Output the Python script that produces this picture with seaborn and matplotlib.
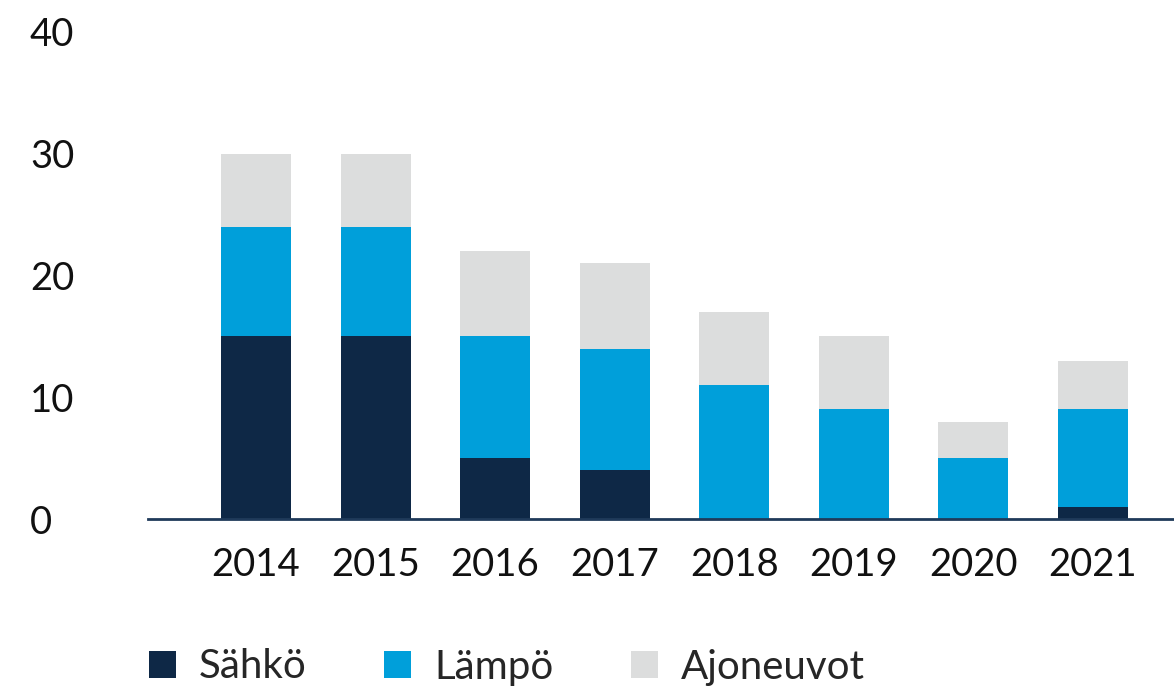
import matplotlib
matplotlib.use("Agg")
import matplotlib.pyplot as plt
from matplotlib.patches import Patch
import seaborn as sns
import pandas as pd

years = ["2014", "2015", "2016", "2017", "2018", "2019", "2020", "2021"]
sahko = [15, 15, 5, 4, 0, 0, 0, 1]
lampo = [9, 9, 10, 10, 11, 9, 5, 8]
ajoneuvot = [6, 6, 7, 7, 6, 6, 3, 4]
series_names = ["Sähkö", "Lämpö", "Ajoneuvot"]
colors = ["#0e2846", "#009fda", "#dcdddd"]
yticks = [0, 10, 20, 30, 40]

sns.set_theme(style="white")
plt.rcParams["font.family"] = ["Lato", "DejaVu Sans"]

df = pd.DataFrame({"year": years, "s": sahko, "l": lampo, "a": ajoneuvot})
df["c1"] = df["s"]
df["c2"] = df["s"] + df["l"]
df["c3"] = df["s"] + df["l"] + df["a"]

W, H = 1174, 688
fig = plt.figure(figsize=(W / 100, H / 100), dpi=100)
ax = fig.add_axes([148 / W, (H - 519) / H, (W - 148) / W, (519 - 32) / H])

for col, c in zip(["c3", "c2", "c1"], [colors[2], colors[1], colors[0]]):
    sns.barplot(data=df, x="year", y=col, order=years, color=c, width=0.586,
                saturation=1, errorbar=None, ax=ax, linewidth=0, edgecolor="none")

ax.set_xlim(-0.904, 7.68)
ax.set_ylim(0, 40)
ax.set_yticks(yticks)
ax.set_yticklabels([str(t) for t in yticks])
ax.set_xlabel("")
ax.set_ylabel("")
for sp in ["top", "right", "left"]:
    ax.spines[sp].set_visible(False)
ax.spines["bottom"].set_color("#1f3a5a")
ax.spines["bottom"].set_linewidth(2)
ax.tick_params(axis="both", length=0, labelsize=27.5, colors="#111111")
ax.tick_params(axis="x", pad=20)
ax.tick_params(axis="y", pad=85)
for lbl in ax.get_yticklabels():
    lbl.set_horizontalalignment("left")

handles = [Patch(facecolor=c, edgecolor="none", label=n) for c, n in zip(colors, series_names)]
fig.legend(handles=handles, loc="center left", bbox_to_anchor=(149 / W, (H - 667) / H),
           ncol=3, frameon=False, fontsize=29, handlelength=0.67, handleheight=0.67,
           handletextpad=0.57, columnspacing=1.92, borderpad=0, borderaxespad=0)

fig.savefig("out.png", dpi=100)
